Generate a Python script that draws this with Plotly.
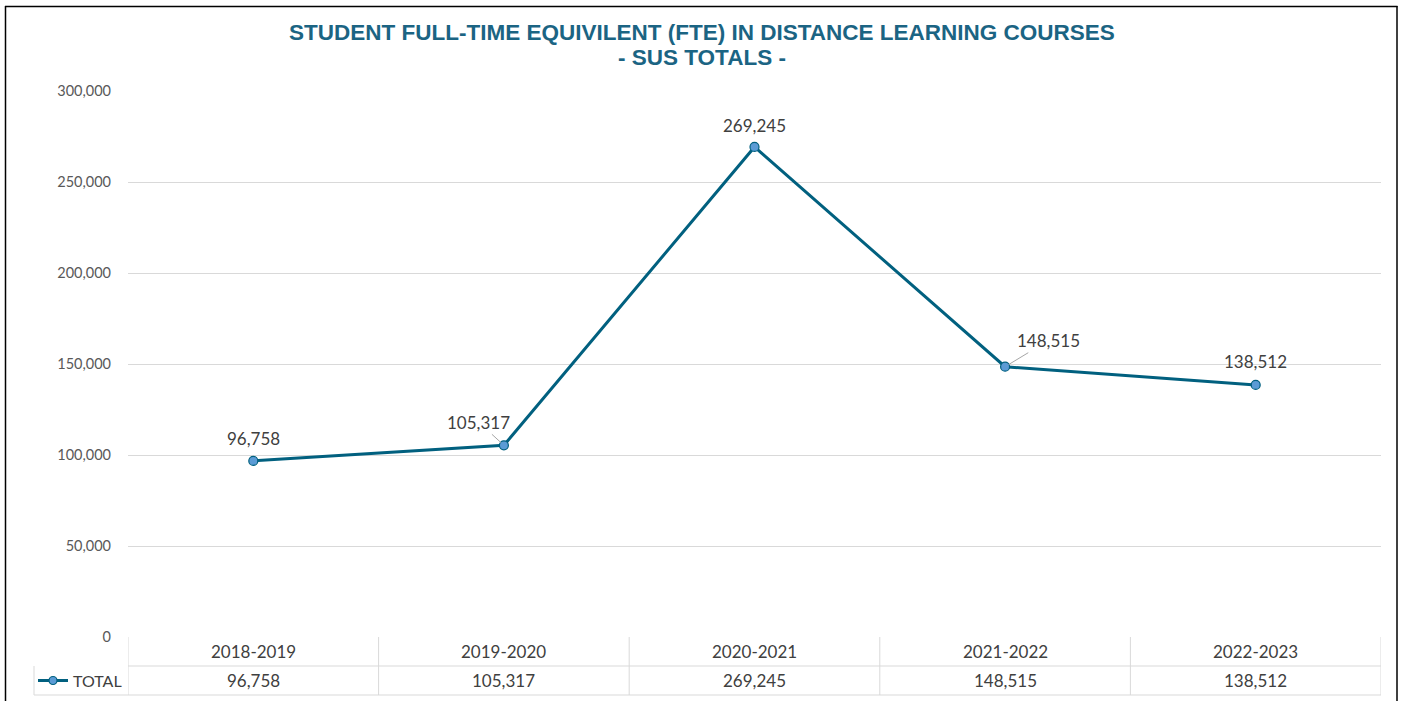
import plotly.graph_objects as go

years = ["2018-2019", "2019-2020", "2020-2021", "2021-2022", "2022-2023"]
total = [96758, 105317, 269245, 148515, 138512]
series_name = "TOTAL"
y_ticks = [0, 50000, 100000, 150000, 200000, 250000, 300000]
title_lines = ["STUDENT FULL-TIME EQUIVILENT (FTE) IN DISTANCE LEARNING COURSES", "- SUS TOTALS -"]

LINE = "#01607F"
MARK = "#5B9BD5"
TXT = "#404040"
GRID = "#D9D9D9"
FONT = "Lato, Liberation Sans, sans-serif"

W, H = 1403, 701
L, R, T, B = 128, 22, 91, 64
PW, PH = W - L - R, H - T - B

def px_x(p):
    return (p - L) / PW

def px_y(p):
    return 1 - (p - T) / PH

fig = go.Figure()
fig.add_trace(go.Scatter(
    x=list(range(len(years))), y=total, mode="lines+markers", name=series_name,
    line=dict(color=LINE, width=3),
    marker=dict(size=9, color=MARK, line=dict(color=LINE, width=1.2)),
    showlegend=False, hoverinfo="skip",
))

# data labels (pixel offsets)
offsets = [(0, -22, False), (-25, -23, True), (0, -21, False), (43, -26, True), (0, -23, False)]
for i, v in enumerate(total):
    ax, ay, arrow = offsets[i]
    fig.add_annotation(
        x=i, y=v, xref="x", yref="y", text=f"{v:,}", showarrow=True,
        ax=ax, ay=ay, arrowhead=0, arrowwidth=1, standoff=4,
        arrowcolor="#A6A6A6" if arrow else "rgba(0,0,0,0)",
        font=dict(family=FONT, size=17, color=TXT),
    )

# data table below the plot
y0, y1, y2 = px_y(637), px_y(666), px_y(695)
shapes = []
n = len(years)
for k in range(n + 1):
    shapes.append(dict(type="line", xref="x", yref="paper", x0=k - 0.5, x1=k - 0.5,
                       y0=y0, y1=y2, line=dict(color=GRID, width=1)))
shapes.append(dict(type="line", xref="paper", yref="paper", x0=0, x1=1, y0=y1, y1=y1,
                   line=dict(color=GRID, width=1)))
leg_x0 = px_x(34)
shapes.append(dict(type="line", xref="paper", yref="paper", x0=leg_x0, x1=1, y0=y2, y1=y2,
                   line=dict(color=GRID, width=1)))
shapes.append(dict(type="line", xref="paper", yref="paper", x0=leg_x0, x1=leg_x0, y0=y1, y1=y2,
                   line=dict(color=GRID, width=1)))
# legend key in table
ym = (y1 + y2) / 2
shapes.append(dict(type="line", xref="paper", yref="paper", x0=px_x(38), x1=px_x(68),
                   y0=ym, y1=ym, line=dict(color=LINE, width=3)))
shapes.append(dict(type="circle", xref="paper", yref="paper",
                   x0=px_x(49), x1=px_x(57), y0=ym - 4 / PH, y1=ym + 4 / PH,
                   fillcolor=MARK, line=dict(color=LINE, width=1.2)))
# outer chart border (left, top, right)
border = dict(color="#000000", width=1.5)
shapes.append(dict(type="line", xref="paper", yref="paper", x0=px_x(5.5), x1=px_x(5.5),
                   y0=px_y(701), y1=px_y(6), line=border))
shapes.append(dict(type="line", xref="paper", yref="paper", x0=px_x(5), x1=px_x(1397.5),
                   y0=px_y(6.5), y1=px_y(6.5), line=border))
shapes.append(dict(type="line", xref="paper", yref="paper", x0=px_x(1397), x1=px_x(1397),
                   y0=px_y(701), y1=px_y(6), line=border))

for i, yr in enumerate(years):
    fig.add_annotation(x=i, y=(y0 + y1) / 2, xref="x", yref="paper", text=yr, showarrow=False,
                       font=dict(family=FONT, size=17, color=TXT), yanchor="middle")
    fig.add_annotation(x=i, y=ym, xref="x", yref="paper", text=f"{total[i]:,}", showarrow=False,
                       font=dict(family=FONT, size=17, color=TXT), yanchor="middle")
fig.add_annotation(x=px_x(71), y=ym, xref="paper", yref="paper", text=series_name,
                   showarrow=False, xanchor="left", yanchor="middle",
                   font=dict(family=FONT, size=16, color=TXT))

# title as two centred lines
for line_text, cy in zip(title_lines, [33, 58]):
    fig.add_annotation(x=px_x(702), y=px_y(cy), xref="paper", yref="paper", text=f"<b>{line_text}</b>",
                       showarrow=False, xanchor="center", yanchor="middle",
                       font=dict(family="Liberation Sans, Arial, sans-serif", size=22.5, color="#1B6483"))

fig.update_layout(
    width=W, height=H, margin=dict(l=L, r=R, t=T, b=B),
    paper_bgcolor="white", plot_bgcolor="white",
    shapes=shapes,
)
fig.update_xaxes(range=[-0.5, n - 0.5], showticklabels=False, showgrid=False, zeroline=False,
                 showline=False, fixedrange=True)
fig.update_yaxes(range=[0, 300000], tickvals=y_ticks, ticktext=[f"{v:,}" for v in y_ticks],
                 showgrid=True, gridcolor=GRID, gridwidth=1, zeroline=False, showline=False,
                 ticklabelstandoff=16, tickfont=dict(family=FONT, size=14.5, color="#595959"))

fig.write_html("out.html", config={"displayModeBar": False},
               post_script="document.body.style.margin='0';")
